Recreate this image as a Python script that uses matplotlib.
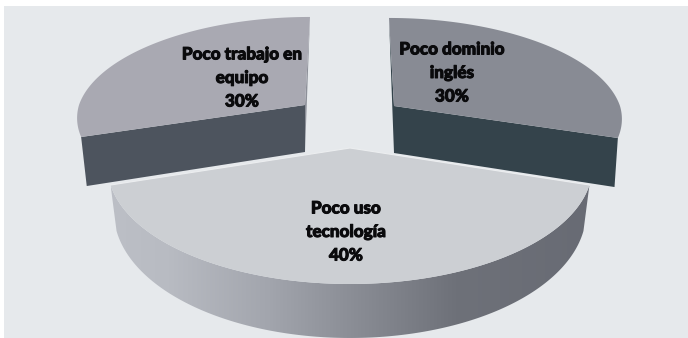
#!/usr/bin/env python3
"""Exploded perspective pie: weak points of the group."""
import matplotlib.patheffects as pe
import matplotlib.pyplot as plt
import numpy as np
from matplotlib.colors import LinearSegmentedColormap
from matplotlib.patches import Polygon, Rectangle

LABELS = ["Poco uso\ntecnología\n40%", "Poco dominio\ninglés\n30%", "Poco trabajo en\nequipo\n30%"]
SHARES = [40, 30, 30]

W, H = 688, 338
BG = "#e6e9ec"

# One entry per slice, same order as SHARES
CENTRES = [(350, 148), (394, 106), (305, 105)]
TEXT_POS = [(346, 232), (452, 73), (242, 78)]
RX = [239, 226, 226]
RY = [113.7, 99.4, 99.4]
PERSP = [0.164, 0.129, 0.129]
SKEW = [0, -5, 5]
DEPTH = [42.4, 47, 47]
DEPTH_K = [0.273, 0.14, 0.14]
TOP_COL = ["#cccfd3", "#888b94", "#a9a9b2"]
WALL_COL = [None, "#34434b", "#4d545e"]
SLIVER_COL = [None, "#34434b", "#8d9099"]
SHRINK = [0.975, 0.985, 0.975]


def slice_angles():
    # angles run from the viewer (0) round to the back (+-180)
    half = np.radians(SHARES[0] * 1.8)
    sweep_r = np.radians(SHARES[1] * 3.6)
    sweep_l = np.radians(SHARES[2] * 3.6)
    return [(-half, half), (half, half + sweep_r), (-half - sweep_l, -half)]


def project(i, theta, low=False):
    sx, sy = np.sin(theta), -np.cos(theta)
    den = 1 + PERSP[i] * sy
    x = RX[i] * sx / den + SKEW[i] * np.clip(sy, 0, None)
    y = -RY[i] * sy / den
    if low:
        x = x * SHRINK[i]
        y = y + DEPTH[i] * (1 - DEPTH_K[i] * sy)
    return CENTRES[i][0] + x, CENTRES[i][1] + y


def apex(i, low=False):
    cx, cy = CENTRES[i]
    return (cx, cy + DEPTH[i]) if low else (cx, cy)


def draw_back_slice(ax, i, t0, t1):
    ts = np.linspace(t0, t1, 120)
    xs, ys = project(i, ts)
    outer = t0 if i == 1 else t1   # corner facing the viewer
    back = t1 if i == 1 else t0
    corner = project(i, outer)
    corner_low = project(i, outer, low=True)
    ax.add_patch(Polygon([apex(i), corner, corner_low, apex(i, low=True)], fc=WALL_COL[i], ec="none", zorder=2))
    ax.add_patch(Polygon([project(i, back), apex(i, low=True), apex(i)], fc=SLIVER_COL[i], ec="none", zorder=2))
    ax.add_patch(Polygon([apex(i), *zip(xs, ys)], fc=TOP_COL[i], ec="none", zorder=3))


def draw_front_slice(ax, i, t0, t1):
    ts = np.linspace(t0, t1, 200)
    xs, ys = project(i, ts)
    lx, ly = project(i, ts, low=True)

    # outer wall, shaded left to right
    wall = Polygon(np.r_[np.c_[xs, ys], np.c_[lx, ly][::-1]], fc="none", ec="none", transform=ax.transData)
    ax.add_patch(wall)
    cmap = LinearSegmentedColormap.from_list(
        "wall", [(0, "#bcbfc6"), (0.12, "#b8bbc2"), (0.33, "#a2a5ad"), (0.5, "#8b8e96"), (0.72, "#6e7179"), (1, "#686b74")]
    )
    grad = np.linspace(0, 1, 256)[None, :]
    img = ax.imshow(grad, cmap=cmap, extent=(xs.min(), xs.max(), H, 140), aspect="auto", zorder=4)
    img.set_clip_path(wall)

    ax.add_patch(Polygon([apex(i), *zip(xs, ys)], fc=TOP_COL[i], ec="none", zorder=5))
    # light rim along the two straight edges
    ax.plot([xs[0], apex(i)[0], xs[-1]], [ys[0], apex(i)[1], ys[-1]], color="#eceef0", lw=0.8, zorder=6)


def main():
    fig = plt.figure(figsize=(W / 100, H / 100), dpi=100, facecolor="white")
    ax = fig.add_axes([0, 0, 1, 1])
    ax.axis("off")
    ax.add_patch(Rectangle((4, 6), W - 4, H - 6, fc=BG, ec="none", zorder=0))

    angles = slice_angles()
    draw_back_slice(ax, 1, *angles[1])
    draw_back_slice(ax, 2, *angles[2])
    draw_front_slice(ax, 0, *angles[0])

    ax.set_xlim(0, W)
    ax.set_ylim(H, 0)

    for label, (tx, ty) in zip(LABELS, TEXT_POS):
        ax.text(tx, ty, label, ha="center", va="center", family="Lato", weight=900,
                fontsize=12.3, linespacing=1.58, color="#0a0a0c", zorder=7,
                path_effects=[pe.withStroke(linewidth=0.7, foreground="#0a0a0c")])

    fig.savefig("out.png", dpi=100)
    plt.close(fig)


if __name__ == "__main__":
    main()
